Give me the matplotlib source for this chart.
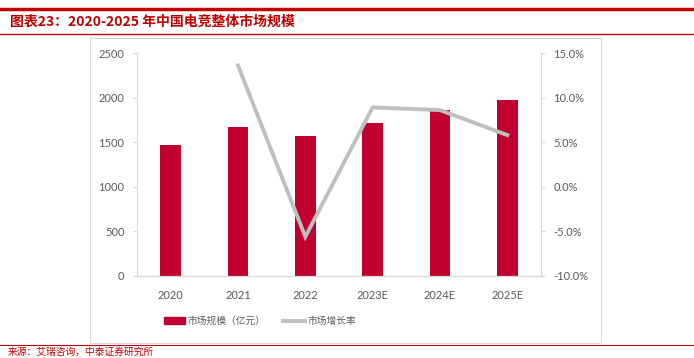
import matplotlib
matplotlib.use("Agg")
import matplotlib.pyplot as plt
from matplotlib.lines import Line2D
from matplotlib.patches import Rectangle
from matplotlib.ticker import FuncFormatter

plt.rcParams['font.family'] = ['Lato', 'Noto Sans CJK SC', 'DejaVu Sans']

categories = ["2020", "2021", "2022", "2023E", "2024E", "2025E"]
market_size = [1470, 1675, 1575, 1720, 1860, 1977]
growth_categories = ["2021", "2022", "2023E", "2024E", "2025E"]
growth_rate = [13.6, -5.6, 8.9, 8.6, 5.8]

title = "图表23：2020-2025 年中国电竞整体市场规模"
source = "来源：艾瑞咨询，中泰证券研究所"
bar_label = "市场规模（亿元）"
line_label = "市场增长率"

W, H = 694, 358
fig = plt.figure(figsize=(W / 100, H / 100), dpi=100)

def fy(y):
    return 1 - y / H

red = "#C00000"
bar_color = "#C0002F"
line_color = "#BFBFBF"
text_gray = "#595959"
axis_gray = "#D9D9D9"

# decorative lines and frame
fig.add_artist(Line2D([0, 1], [fy(9), fy(9)], color=red, lw=2.5, transform=fig.transFigure))
fig.add_artist(Line2D([0, 1], [fy(34), fy(34)], color=red, lw=1.0, transform=fig.transFigure))
fig.add_artist(Line2D([0, 1], [fy(345), fy(345)], color=red, lw=0.8, transform=fig.transFigure))
fig.add_artist(Rectangle((90 / W, fy(343)), (601 - 90) / W, (343 - 38) / H, fill=False,
                         edgecolor=axis_gray, lw=0.8, transform=fig.transFigure))

fig.text(10 / W, fy(22), title, color=red, fontsize=10, fontweight='bold',
         va='center', ha='left', family=['Liberation Sans Narrow', 'Noto Sans CJK SC', 'DejaVu Sans'])
fig.text(8 / W, fy(352), source, color=red, fontsize=7, va='center', ha='left',
         family=['Noto Sans CJK SC', 'DejaVu Sans'])

ax = fig.add_axes([137 / W, fy(276), (541 - 137) / W, (276 - 53) / H])
x = list(range(len(categories)))
ax.bar(x, market_size, width=0.31, color=bar_color, zorder=2, label=bar_label)
ax.set_ylim(0, 2500)
ax.set_yticks(range(0, 2501, 500))
ax.set_xlim(-0.5, len(categories) - 0.5)
ax.set_xticks(x)
ax.set_xticklabels(categories)

ax2 = ax.twinx()
gx = [categories.index(c) for c in growth_categories]
ax2.plot(gx, growth_rate, color=line_color, lw=2.8, zorder=3, label=line_label,
         solid_joinstyle='miter')
ax2.set_ylim(-10, 15)
ax2.set_yticks(range(-10, 16, 5))
ax2.yaxis.set_major_formatter(FuncFormatter(lambda v, p: f"{v:.1f}%"))

for a in (ax, ax2):
    a.spines['top'].set_visible(False)
    for s in ('left', 'right', 'bottom'):
        a.spines[s].set_color(axis_gray)
        a.spines[s].set_linewidth(0.8)
    a.tick_params(axis='both', colors=text_gray, labelsize=8, length=3, width=0.8)
    for lbl in a.get_xticklabels() + a.get_yticklabels():
        lbl.set_color(text_gray)
ax.tick_params(axis='x', length=0, pad=10)
ax.tick_params(axis='y', color=axis_gray, pad=6)
ax2.tick_params(axis='y', color=axis_gray, pad=6)
ax2.spines['left'].set_visible(False)
ax.spines['right'].set_visible(False)

handles = [Rectangle((0, 0), 1, 1, color=bar_color),
           Line2D([0], [0], color=line_color, lw=2.8)]
fig.legend(handles, [bar_label, line_label], loc='center', bbox_to_anchor=(260 / W, fy(321)),
           ncol=2, frameon=False, labelcolor=text_gray, handlelength=2.2,
           handleheight=0.7, columnspacing=1.8, handletextpad=0.3,
           prop={'family': ['Noto Sans CJK SC', 'DejaVu Sans'], 'size': 7})

fig.savefig("out.png", dpi=100)
